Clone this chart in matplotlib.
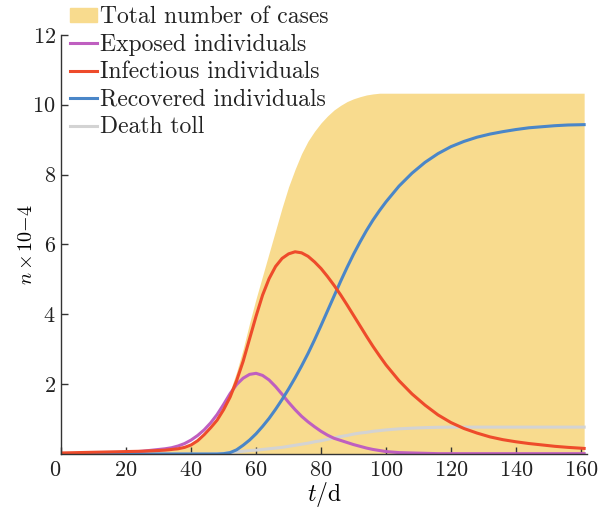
import matplotlib
matplotlib.use("Agg")
import matplotlib.pyplot as plt
from matplotlib.patches import Patch
from matplotlib.lines import Line2D

plt.rcParams['font.family'] = ['cmr10', 'DejaVu Sans']
plt.rcParams['mathtext.fontset'] = 'cm'
plt.rcParams['axes.formatter.use_mathtext'] = True

# days
t = [0, 10, 20, 25, 30, 32, 34, 36, 38, 40, 42, 44, 46, 48, 50, 52, 54, 56, 58,
     60, 62, 64, 66, 68, 70, 72, 74, 76, 78, 80, 82, 84, 86, 88, 90, 92, 94, 96,
     98, 100, 104, 108, 112, 116, 120, 124, 128, 132, 136, 140, 144, 148, 152,
     156, 161]

# values in units of 10^4
total = [0.02, 0.03, 0.05, 0.06, 0.08, 0.09, 0.11, 0.14, 0.19, 0.26, 0.37, 0.52,
         0.72, 1.0, 1.35, 1.8, 2.35, 3.0, 3.75, 4.45, 5.1, 5.75, 6.4, 7.05, 7.65,
         8.15, 8.6, 8.96, 9.24, 9.48, 9.68, 9.85, 9.98, 10.09, 10.17, 10.23, 10.28,
         10.31, 10.33, 10.33, 10.33, 10.33, 10.33, 10.33, 10.33, 10.33, 10.33,
         10.33, 10.33, 10.33, 10.33, 10.33, 10.33, 10.33, 10.33]
exposed = [0.0, 0.01, 0.04, 0.08, 0.13, 0.15, 0.18, 0.23, 0.3, 0.4, 0.53, 0.69,
           0.89, 1.13, 1.42, 1.73, 1.99, 2.17, 2.28, 2.31, 2.25, 2.12, 1.93, 1.71,
           1.48, 1.27, 1.08, 0.92, 0.78, 0.65, 0.54, 0.45, 0.39, 0.33, 0.27, 0.22,
           0.17, 0.13, 0.1, 0.07, 0.04, 0.03, 0.02, 0.01, 0.01, 0.01, 0.01, 0.01,
           0.01, 0.01, 0.01, 0.01, 0.01, 0.01, 0.01]
infectious = [0.03, 0.05, 0.07, 0.08, 0.1, 0.11, 0.13, 0.15, 0.19, 0.26, 0.38,
              0.55, 0.75, 0.97, 1.27, 1.63, 2.1, 2.65, 3.3, 3.95, 4.55, 5.02, 5.37,
              5.6, 5.73, 5.79, 5.76, 5.66, 5.5, 5.31, 5.08, 4.83, 4.56, 4.27,
              3.97, 3.67, 3.37, 3.08, 2.81, 2.55, 2.1, 1.72, 1.4, 1.12, 0.9, 0.73,
              0.6, 0.49, 0.41, 0.35, 0.3, 0.26, 0.22, 0.19, 0.16]
recovered = [0.0, 0.0, 0.0, 0.0, 0.0, 0.0, 0.0, 0.0, 0.0, 0.0, 0.0, 0.0, 0.0,
             0.0, 0.01, 0.04, 0.12, 0.25, 0.4, 0.58, 0.79, 1.02, 1.28, 1.56, 1.86,
             2.18, 2.52, 2.88, 3.27, 3.68, 4.1, 4.52, 4.94, 5.34, 5.72, 6.07, 6.4,
             6.7, 6.97, 7.22, 7.67, 8.04, 8.35, 8.6, 8.8, 8.95, 9.07, 9.16, 9.23,
             9.29, 9.34, 9.37, 9.4, 9.42, 9.43]
deaths = [0.0, 0.0, 0.0, 0.0, 0.0, 0.0, 0.0, 0.0, 0.0, 0.0, 0.0, 0.0, 0.0, 0.01,
          0.02, 0.04, 0.06, 0.08, 0.1, 0.11, 0.13, 0.15, 0.17, 0.19, 0.22, 0.25,
          0.28, 0.31, 0.35, 0.38, 0.42, 0.46, 0.5, 0.53, 0.57, 0.6, 0.62, 0.65,
          0.67, 0.69, 0.72, 0.74, 0.755, 0.765, 0.77, 0.77, 0.77, 0.77, 0.77,
          0.77, 0.77, 0.77, 0.77, 0.77, 0.77]

labels = ['Total number of cases', 'Exposed individuals', 'Infectious individuals',
          'Recovered individuals', 'Death toll']
c_fill = '#F8DB8E'
c_exp = '#BF5FC0'
c_inf = '#EE4B2B'
c_rec = '#4A86C8'
c_dth = '#D3D3D3'

fig = plt.figure(figsize=(6.0, 5.13), dpi=100)
ax = fig.add_axes([0.102, 0.115, 0.877, 0.817])

ax.fill_between(t, 0, total, color=c_fill, lw=0)
ax.plot(t, deaths, color=c_dth, lw=2.2)
ax.plot(t, exposed, color=c_exp, lw=2.2)
ax.plot(t, recovered, color=c_rec, lw=2.2)
ax.plot(t, infectious, color=c_inf, lw=2.2)

ax.set_xlim(0, 162)
ax.set_ylim(0, 12)
ax.set_xticks(range(0, 161, 20))
ax.set_yticks(range(2, 13, 2))
ax.spines['top'].set_visible(False)
ax.spines['right'].set_visible(False)
for s in ['left', 'bottom']:
    ax.spines[s].set_color('#333333')
    ax.spines[s].set_linewidth(1.0)
ax.tick_params(direction='in', length=5, width=1, color='#333333',
               labelsize=16, labelcolor='#222222')
ax.tick_params(axis='x', pad=5)
ax.tick_params(axis='y', pad=4)
ax.xaxis.get_major_ticks()[0].label1.set_horizontalalignment('right')
ax.set_xlabel(r'$t/\mathrm{d}$', fontsize=17, labelpad=0)
ax.set_ylabel(r'$n\,{\times}\,10{-}4$', fontsize=14.5, labelpad=-3)

handles = [Patch(color=c_fill),
           Line2D([], [], color=c_exp, lw=2.2),
           Line2D([], [], color=c_inf, lw=2.2),
           Line2D([], [], color=c_rec, lw=2.2),
           Line2D([], [], color=c_dth, lw=2.2)]
leg = fig.legend(handles, labels, loc='upper left', bbox_to_anchor=(0.11, 0.995),
                 frameon=False, fontsize=17, handlelength=1.15, handleheight=0.55,
                 handletextpad=0.15, labelspacing=0.23, borderpad=0.15,
                 borderaxespad=0)
for txt in leg.get_texts():
    txt.set_color('#222222')

fig.savefig('out.png', dpi=100)
